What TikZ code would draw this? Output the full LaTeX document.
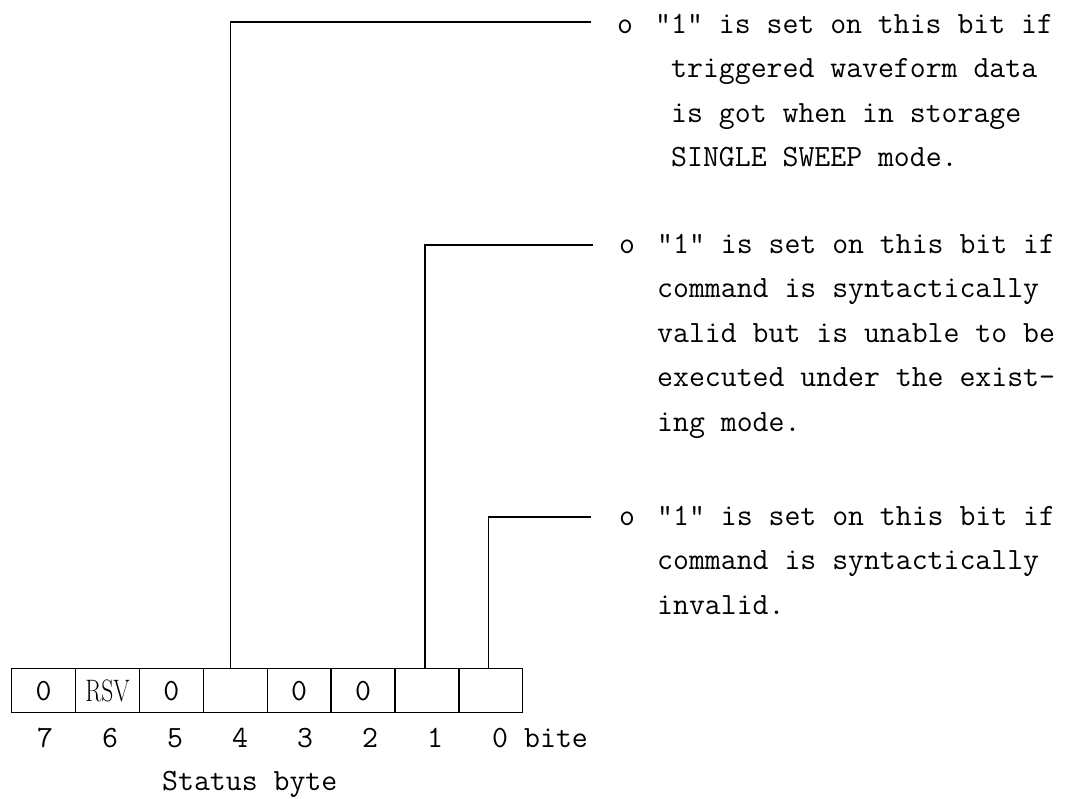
\documentclass[tikz,border=0pt]{standalone}
\begin{document}
\begin{tikzpicture}[x=1pt,y=-1pt,
  ln/.style={line width=1.4pt, line cap=rect},
  mono/.style={font=\fontsize{30.9}{44.5}\selectfont\ttfamily, inner sep=0pt},
  txt/.style={mono, anchor=base west},
  bul/.style={mono, anchor=base},
  cellbox/.style={draw, line width=1.4pt, minimum width=63.875pt, minimum height=44pt,
    inner sep=0pt, anchor=north west, font=\fontsize{30.9}{36}\selectfont\ttfamily}]
\useasboundingbox (0,0) rectangle (1076,798);
% status byte cells
\node[cellbox] (b7) at (11,668) {0};
\node[cellbox] (b6) at (74.875,668) {\rmfamily\fontsize{31}{32}\selectfont\scalebox{0.76}[1]{RSV}};
\node[cellbox] (b5) at (138.75,668) {0};
\node[cellbox] (b4) at (202.625,668) {};
\node[cellbox] (b3) at (266.5,668) {0};
\node[cellbox] (b2) at (330.375,668) {0};
\node[cellbox] (b1) at (394.25,668) {};
\node[cellbox] (b0) at (458.125,668) {};
% bit numbers
\node[bul] (d7) at (45,747) {7};
\node[bul] (d6) at (110,747) {6};
\node[bul] (d5) at (175,747) {5};
\node[bul] (d4) at (240,747) {4};
\node[bul] (d3) at (305,747) {3};
\node[bul] (d2) at (370,747) {2};
\node[bul] (d1) at (435,747) {1};
\node[bul] (d0) at (500,747) {0};
\node[txt] (bite) at (524,747) {bite};
\node[txt] (cap) at (162,790) {Status byte};
% connector end points
\coordinate (e4) at (590,22);
\coordinate (e1) at (592,245);
\coordinate (e0) at (590,517);
\draw[ln] ([xshift=-5pt]b4.north) |- (e4);
\draw[ln] ([xshift=-2pt]b1.north) |- (e1);
\draw[ln] ([xshift=-2pt]b0.north) |- (e0);
% block for bit 4
\node[bul] (o4) at (625,33) {o};
\node[txt] (t4a) at (655,33) {"1" is set on this bit if};
\node[txt] (t4b) at (671,77.5) {triggered waveform data};
\node[txt] (t4c) at (671,122) {is got when in storage};
\node[txt] (t4d) at (671,166.5) {SINGLE SWEEP mode.};
% block for bit 1
\node[bul] (o1) at (627,253) {o};
\node[txt] (t1a) at (657,253) {"1" is set on this bit if};
\node[txt] (t1b) at (657,297.5) {command is syntactically};
\node[txt] (t1c) at (657,342) {valid but is unable to be};
\node[txt] (t1d) at (657,386.5) {executed under the exist-};
\node[txt] (t1e) at (657,431) {ing mode.};
% block for bit 0
\node[bul] (o0) at (627,525) {o};
\node[txt] (t0a) at (657,525) {"1" is set on this bit if};
\node[txt] (t0b) at (657,569.5) {command is syntactically};
\node[txt] (t0c) at (657,614) {invalid.};
\end{tikzpicture}
\end{document}
